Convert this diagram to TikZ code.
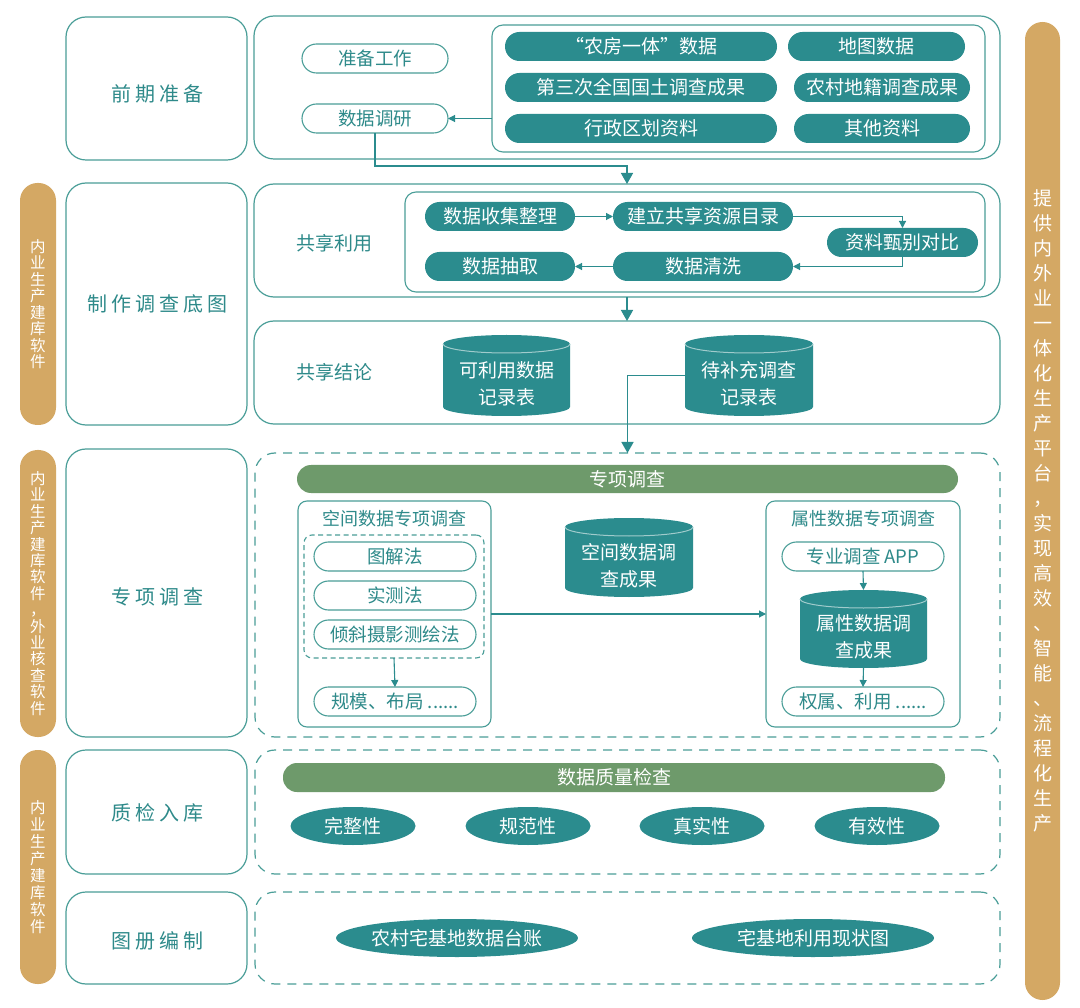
\documentclass[tikz,border=0pt]{standalone}
\usepackage{fontspec}
\setmainfont{Noto Sans CJK SC}
\newfontfamily\lsfont[LetterSpace=20]{Noto Sans CJK SC}
\usetikzlibrary{arrows.meta,calc,shapes.geometric}
\definecolor{tealf}{HTML}{2B8C8E}
\definecolor{tline}{HTML}{4A9E98}
\definecolor{ttext}{HTML}{2E8A8A}
\definecolor{gbar}{HTML}{6E9A6B}
\definecolor{orng}{HTML}{D4A864}
\newcommand\mycyl[6]{%
  \fill[tealf] (#2,#4+9) -- (#2,#5-9) arc[start angle=180,end angle=0,x radius={(#3-#2)/2},y radius=9]
     -- (#3,#4+9) arc[start angle=0,end angle=-180,x radius={(#3-#2)/2},y radius=9] -- cycle;
  \draw[white!55!tealf,line width=1pt] (#2,#4+9) arc[start angle=180,end angle=0,x radius={(#3-#2)/2},y radius=9];
  \node[minimum width={#3-#2},minimum height={#5-#4}] (#1) at ({(#2+#3)/2},{(#4+#5)/2}) {};
  \node[cyltext] (#1t) at ({(#2+#3)/2},{(#4+#5)/2+8}) {#6};
}
\begin{document}
\begin{tikzpicture}[x=1pt,y=-1pt,
  every node/.style={inner sep=0pt,outer sep=0pt},
  outer/.style={draw=tline,line width=1.2pt,rounded corners=20pt,fill=white},
  dbox/.style={draw=tline,line width=1.2pt,rounded corners=20pt,dash pattern=on 9pt off 7pt},
  inbox/.style={draw=tline,line width=1.1pt,rounded corners=11pt},
  lefttxt/.style={font=\lsfont\fontsize{20}{24}\selectfont,text=ttext},
  pillf/.style={fill=tealf,text=white,rounded corners=14.5pt,minimum height=29pt,font=\fontsize{19}{22}\selectfont},
  pillo/.style={draw=tline,line width=1.1pt,fill=white,text=ttext,rounded corners=14.5pt,minimum height=29pt,font=\fontsize{18.5}{22}\selectfont},
  plain/.style={text=ttext,font=\fontsize{19}{22}\selectfont},
  gbarst/.style={fill=gbar,text=white,rounded corners=14pt,font=\fontsize{19}{22}\selectfont},
  ell/.style={ellipse,fill=tealf,text=white,font=\fontsize{19}{22}\selectfont},
  cyltext/.style={text=white,align=center,font=\fontsize{19}{27}\selectfont},
  obar/.style={fill=orng,rounded corners=17.5pt,text=white,align=center},
  arr/.style={draw=tealf,line width=1.1pt,-{Triangle[length=7pt,width=7pt]}},
  bigarr/.style={draw=tealf,line width=1.5pt,-{Triangle[length=11pt,width=12pt]}}
]
\useasboundingbox (0,0) rectangle (1080,1008);
\fill[white] (0,0) rectangle (1080,1008);

% orange bars
\node[obar,minimum width=36pt,minimum height=242pt,font=\fontsize{15.5}{16.5}\selectfont] (O1) at (38,304)
  {内\\业\\生\\产\\建\\库\\软\\件};
\node[obar,minimum width=36pt,minimum height=287pt,font=\fontsize{15.5}{16.4}\selectfont] (O2) at (38,593.5)
  {内\\业\\生\\产\\建\\库\\软\\件\\，\\外\\业\\核\\查\\软\\件};
\node[obar,minimum width=36pt,minimum height=234pt,font=\fontsize{15.5}{17}\selectfont] (O3) at (38,867)
  {内\\业\\生\\产\\建\\库\\软\\件};
\node[obar,minimum width=35pt,minimum height=978pt,font=\fontsize{19}{25}\selectfont] (OR) at (1042.5,511)
  {提\\供\\内\\外\\业\\一\\体\\化\\生\\产\\平\\台\\，\\实\\现\\高\\效\\、\\智\\能\\、\\流\\程\\化\\生\\产};

% left boxes
\node[outer,minimum width=181pt,minimum height=143pt] (L1) at (156.5,88.5) {};
\node[outer,minimum width=181pt,minimum height=242pt] (L2) at (156.5,304) {};
\node[outer,minimum width=181pt,minimum height=288pt] (L3) at (156.5,593) {};
\node[outer,minimum width=181pt,minimum height=124pt] (L4) at (156.5,812) {};
\node[outer,minimum width=181pt,minimum height=92pt] (L5) at (156.5,938) {};
\node[lefttxt] (L1t) at (157,94) {前期准备};
\node[lefttxt] (L2t) at (157,304) {制作调查底图};
\node[lefttxt] (L3t) at (157,597) {专项调查};
\node[lefttxt] (L4t) at (157,813) {质检入库};
\node[lefttxt] (L5t) at (157,941) {图册编制};

% right boxes
\node[outer,minimum width=746pt,minimum height=143pt] (R1) at (627,87.5) {};
\node[outer,minimum width=746pt,minimum height=113pt] (R2) at (627,240.5) {};
\node[outer,minimum width=746pt,minimum height=103pt] (R3) at (627,372.5) {};
\node[dbox,minimum width=745pt,minimum height=284pt] (R4) at (627.5,595) {};
\node[dbox,minimum width=745pt,minimum height=124pt] (R5) at (627.5,812) {};
\node[dbox,minimum width=745pt,minimum height=92pt] (R6) at (627.5,938) {};

% row 1
\node[inbox,minimum width=493pt,minimum height=127pt] (I1) at (738.5,88.5) {};
\node[pillo,minimum width=146pt] (ZB) at (375,58.5) {准备工作};
\node[pillo,minimum width=146pt] (DY) at (375,118.5) {数据调研};
\node[pillf,minimum width=272pt] (A1) at (641,46.5) {“农房一体”数据};
\node[pillf,minimum width=177pt] (A2) at (876.5,46.5) {地图数据};
\node[pillf,minimum width=272pt] (B1) at (641,87.5) {第三次全国国土调查成果};
\node[pillf,minimum width=176pt] (B2) at (882,87.5) {农村地籍调查成果};
\node[pillf,minimum width=272pt] (C1) at (641,128.5) {行政区划资料};
\node[pillf,minimum width=176pt] (C2) at (882,128.5) {其他资料};
\draw[arr] (I1.west |- DY.east) -- (DY.east);
\coordinate (k1) at (627,166);
\draw[bigarr] (DY.south) |- (k1) -- (R2.north);

% row 2
\node[plain] (GX) at (334,243) {共享利用};
\node[inbox,minimum width=580pt,minimum height=100pt] (I2) at (695,242) {};
\node[pillf,minimum width=150pt] (F1) at (500,216.5) {数据收集整理};
\node[pillf,minimum width=180pt] (F2) at (703,216.5) {建立共享资源目录};
\node[pillf,minimum width=151pt] (F3) at (902.5,242.5) {资料甄别对比};
\node[pillf,minimum width=180pt] (F4) at (703,266.5) {数据清洗};
\node[pillf,minimum width=150pt] (F5) at (500,266.5) {数据抽取};
\draw[arr] (F1.east) -- (F2.west);
\draw[arr] (F2.east) -| (F3.north);
\draw[arr] (F3.south) |- (F4.east);
\draw[arr] (F4.west) -- (F5.east);
\draw[bigarr] (R2.south) -- (R3.north);

% row 3
\node[plain] (JL) at (334,372) {共享结论};
\mycyl{KY}{443}{570}{335}{416}{可利用数据\\记录表}
\mycyl{DB}{685}{813}{335}{416}{待补充调查\\记录表}
\draw[bigarr] (DB.west) -| (R4.north);

% row 4
\node[gbarst,minimum width=661pt,minimum height=28pt] (G1) at (627.5,479) {专项调查};
\node[draw=tline,line width=1.1pt,rounded corners=9pt,minimum width=193pt,minimum height=226pt] (SB) at (394.5,614) {};
\node[plain,font=\fontsize{18}{22}\selectfont] (SBt) at (394.5,519) {空间数据专项调查};
\node[draw=tline,line width=1.1pt,rounded corners=8pt,dash pattern=on 5pt off 3.5pt,minimum width=180pt,minimum height=123pt] (SD) at (394,596.5) {};
\node[pillo,minimum width=162pt] (P1) at (395,556.5) {图解法};
\node[pillo,minimum width=162pt] (P2) at (395,595.5) {实测法};
\node[pillo,minimum width=162pt] (P3) at (395,634.5) {倾斜摄影测绘法};
\node[pillo,minimum width=162pt] (P4) at (395,701.5) {规模、布局 ......};
\draw[arr] (SD.south) -- (P4.north);
\mycyl{KJ}{565}{693}{518}{597}{空间数据调\\查成果}
\node[draw=tline,line width=1.1pt,rounded corners=9pt,minimum width=194pt,minimum height=226pt] (AB) at (863,614) {};
\node[plain,font=\fontsize{18}{22}\selectfont] (ABt) at (863,519) {属性数据专项调查};
\node[pillo,minimum width=162pt] (Q1) at (863,556.5) {专业调查 APP};
\mycyl{SX}{800}{927}{590}{668}{属性数据调\\查成果}
\node[pillo,minimum width=162pt] (Q2) at (863,701.5) {权属、利用 ......};
\draw[arr] (Q1.south) -- (SX.north);
\draw[arr] (SX.south) -- (Q2.north);
\draw[arr] (SB.east) -- (AB.west);

% row 5
\node[gbarst,minimum width=662pt,minimum height=29pt] (G2) at (614,777.5) {数据质量检查};
\node[ell,minimum width=125pt,minimum height=38pt] (E1) at (353,826) {完整性};
\node[ell,minimum width=125pt,minimum height=38pt] (E2) at (528,826) {规范性};
\node[ell,minimum width=125pt,minimum height=38pt] (E3) at (702,826) {真实性};
\node[ell,minimum width=125pt,minimum height=38pt] (E4) at (877,826) {有效性};

% row 6
\node[ell,minimum width=241pt,minimum height=38pt] (E5) at (457,938) {农村宅基地数据台账};
\node[ell,minimum width=242pt,minimum height=38pt] (E6) at (813,938) {宅基地利用现状图};
\end{tikzpicture}
\end{document}
